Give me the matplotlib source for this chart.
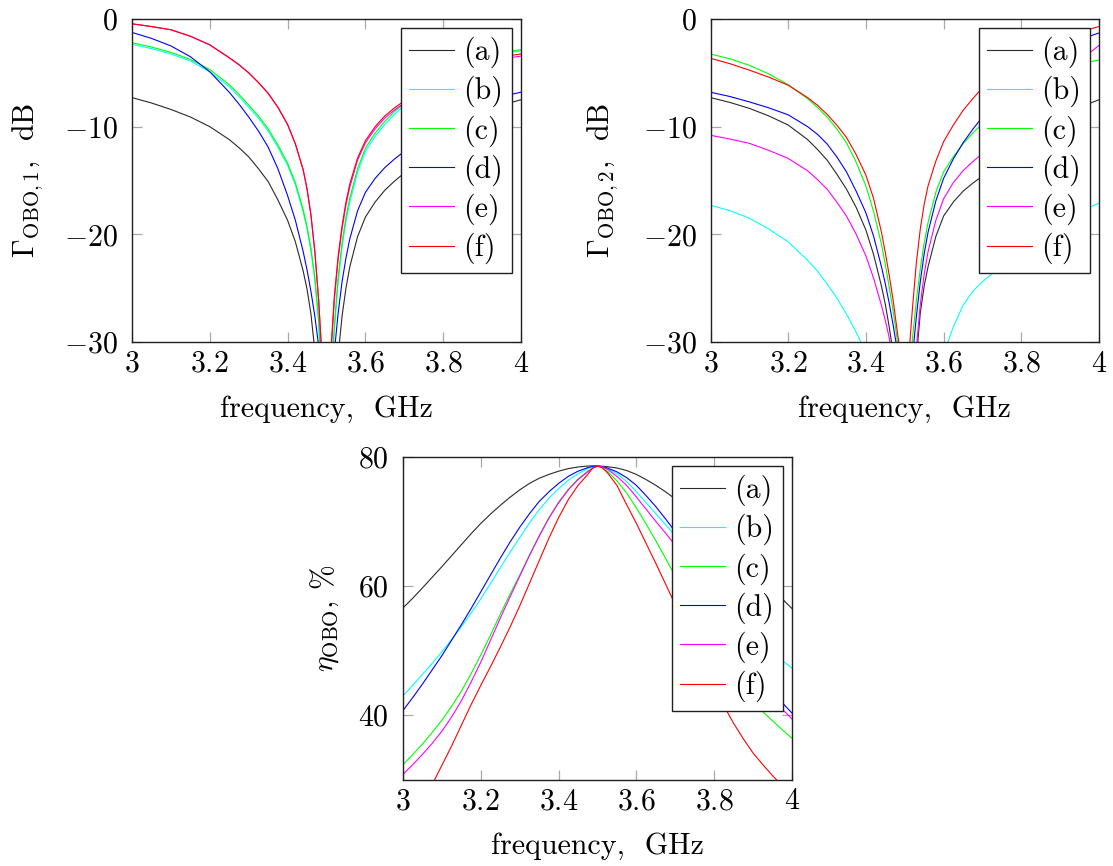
import matplotlib
matplotlib.use('Agg')
import matplotlib.pyplot as plt
from matplotlib.ticker import FixedLocator, FixedFormatter

# ---------------- data ----------------
series_labels = ['(a)', '(b)', '(c)', '(d)', '(e)', '(f)']
series_colors = ['#2a2a2a', '#00ffff', '#00ff00', '#0000ff', '#ff00ff', '#ff0000']

freq_g = [3.00, 3.05, 3.10, 3.15, 3.20, 3.25, 3.275, 3.30, 3.325, 3.35, 3.375, 3.40, 3.42,
          3.44, 3.45, 3.46, 3.47, 3.48, 3.49, 3.50, 3.51, 3.52, 3.53, 3.54, 3.55, 3.56,
          3.58, 3.60, 3.625, 3.65, 3.675, 3.70, 3.75, 3.80, 3.85, 3.90, 3.95, 4.00]

# Gamma_OBO,1 (dB)
g1_a = [-7.3, -7.8, -8.4, -9.1, -10.0, -11.2, -11.95, -12.8, -13.9, -15.1, -16.8, -18.7, -20.7,
        -23.4, -25.1, -27.4, -30.8, -37, -45, -55, -45, -38, -31.2, -27.6, -25.0, -23.0,
        -20.2, -18.4, -17.0, -15.9, -15.05, -14.3, -12.6, -11.1, -9.9, -8.8, -8.0, -7.5]
g1_b = [-2.35, -2.75, -3.25, -3.9, -4.9, -6.3, -7.2, -8.2, -9.2, -10.4, -11.9, -13.6, -15.4,
        -17.9, -19.5, -21.5, -24.2, -28.3, -35.5, -50, -36, -29.0, -24.4, -21.2, -18.8, -17.0,
        -14.2, -12.3, -10.9, -9.8, -8.85, -8.0, -6.6, -5.4, -4.5, -3.8, -3.25, -2.95]
g1_c = [-2.2, -2.6, -3.1, -3.75, -4.7, -6.1, -7.0, -8.0, -9.0, -10.2, -11.7, -13.4, -15.2,
        -17.7, -19.3, -21.3, -24.0, -28.0, -35, -50, -35, -28.5, -24.0, -20.8, -18.4, -16.6,
        -13.9, -12.0, -10.6, -9.5, -8.6, -7.8, -6.4, -5.2, -4.3, -3.6, -3.1, -2.85]
g1_d = [-1.25, -1.8, -2.5, -3.5, -4.9, -6.8, -7.9, -9.1, -10.4, -11.9, -13.9, -16.4, -18.7,
        -21.6, -23.3, -25.3, -27.6, -30.4, -38, -55, -40, -31, -27.3, -24.4, -22.2, -20.4,
        -17.8, -16.1, -14.8, -13.8, -13.0, -12.3, -10.9, -9.7, -8.6, -7.8, -7.2, -6.8]
g1_e = [-0.45, -0.7, -1.0, -1.6, -2.4, -3.6, -4.25, -5.0, -5.9, -6.9, -8.2, -9.8, -11.6,
        -14.0, -15.8, -18.2, -21.6, -26.2, -32.5, -50, -32, -26.2, -22.3, -19.5, -17.3, -15.6,
        -13.1, -11.5, -10.2, -9.2, -8.45, -7.8, -6.5, -5.5, -4.7, -4.1, -3.7, -3.45]
g1_f = [-0.45, -0.7, -1.0, -1.6, -2.4, -3.6, -4.25, -5.0, -5.9, -6.9, -8.2, -9.8, -11.6,
        -14.0, -15.8, -18.2, -21.6, -26.2, -32.5, -50, -31.5, -25.8, -22.0, -19.2, -17.0, -15.3,
        -12.9, -11.3, -10.0, -9.0, -8.25, -7.6, -6.3, -5.3, -4.5, -3.9, -3.5, -3.25]

# Gamma_OBO,2 (dB)
g2_a = [-7.3, -7.75, -8.3, -9.0, -9.85, -11.2, -12.1, -13.1, -14.4, -15.8, -17.5, -19.6, -21.9,
        -24.8, -26.5, -28.6, -31.0, -37, -45, -55, -45, -38, -31.5, -27.3, -24.8, -23.0,
        -20.2, -18.3, -17.0, -16.0, -15.25, -14.6, -12.9, -11.4, -10.1, -9.0, -8.2, -7.5]
g2_b = [-17.3, -17.8, -18.5, -19.5, -20.7, -22.4, -23.4, -24.6, -25.9, -27.4, -29.1, -31.0, -34,
        -37, -39, -41, -44, -47, -52, -60, -52, -47, -44, -41, -39, -37,
        -33.7, -31.1, -28.6, -26.6, -25.3, -24.4, -22.9, -21.2, -19.9, -18.8, -17.9, -17.1]
g2_c = [-3.25, -3.7, -4.3, -5.1, -6.1, -7.4, -8.2, -9.1, -10.2, -11.5, -13.3, -15.5, -17.9,
        -20.9, -22.8, -24.9, -27.1, -29.6, -35, -50, -33.5, -29.6, -26.1, -23.2, -20.8, -18.9,
        -16.1, -14.2, -12.8, -11.6, -10.6, -9.7, -8.2, -6.9, -5.8, -4.9, -4.2, -3.8]
g2_d = [-6.8, -7.2, -7.7, -8.25, -8.9, -10.0, -10.7, -11.6, -12.8, -14.2, -16.0, -18.0, -20.2,
        -23.0, -24.6, -26.4, -28.4, -30.6, -38, -50, -38, -31.3, -27.6, -24.4, -21.8, -19.8,
        -16.9, -14.8, -13.0, -11.5, -10.25, -9.1, -7.0, -5.3, -3.9, -2.8, -1.9, -1.3]
g2_e = [-10.8, -11.15, -11.55, -12.2, -12.95, -14.1, -14.9, -15.8, -17.0, -18.3, -20.0, -22.0, -24.1,
        -26.6, -28.0, -29.6, -32, -40, -48, -55, -45, -38, -30.5, -26.5, -23.7, -21.6,
        -18.7, -16.7, -15.2, -14.1, -13.25, -12.5, -10.5, -8.7, -7.0, -5.4, -3.9, -2.45]
g2_f = [-3.65, -4.15, -4.75, -5.4, -6.15, -7.3, -8.0, -8.85, -9.85, -11.0, -12.6, -14.5, -16.7,
        -19.8, -21.7, -23.8, -26.1, -28.8, -31.5, -45, -31.5, -26.8, -22.6, -19.5, -17.2, -15.5,
        -13.2, -11.4, -9.85, -8.5, -7.4, -6.4, -4.8, -3.6, -2.6, -1.8, -1.2, -0.7]

freq_e = [3.000, 3.025, 3.050, 3.075, 3.100, 3.125, 3.150, 3.175, 3.200, 3.225, 3.250,
          3.275, 3.300, 3.325, 3.350, 3.375, 3.400, 3.425, 3.450, 3.475, 3.4875, 3.500,
          3.5125, 3.525, 3.550, 3.575, 3.600, 3.625, 3.650, 3.675, 3.700, 3.725, 3.750,
          3.775, 3.800, 3.825, 3.850, 3.875, 3.900, 3.925, 3.950, 3.975, 4.000]

# eta_OBO (%)
eta_a = [56.6, 58.1, 59.7, 61.35, 63.0, 64.7, 66.4, 68.1, 69.7, 71.15, 72.5,
         73.75, 74.9, 75.9, 76.7, 77.3, 77.8, 78.2, 78.45, 78.6, 78.62, 78.6,
         78.57, 78.5, 78.3, 77.9, 77.3, 76.5, 75.6, 74.6, 73.5, 72.3, 71.0,
         69.7, 68.3, 66.85, 65.4, 63.95, 62.5, 61.0, 59.5, 58.0, 56.5]
eta_b = [43.0, 44.6, 46.3, 48.0, 49.8, 51.7, 53.7, 55.8, 58.0, 60.4, 62.8,
         65.2, 67.5, 69.75, 71.8, 73.6, 75.1, 76.4, 77.4, 78.2, 78.5, 78.6,
         78.5, 78.2, 77.4, 76.2, 74.6, 72.9, 71.2, 69.5, 67.8, 66.0, 64.2,
         62.3, 60.4, 58.4, 56.5, 54.7, 52.9, 51.2, 49.7, 48.4, 47.3]
eta_c = [32.3, 33.85, 35.5, 37.3, 39.2, 41.35, 43.7, 46.4, 49.3, 52.4, 55.6,
         58.7, 61.7, 64.8, 67.8, 70.6, 73.0, 75.0, 76.6, 77.8, 78.3, 78.6,
         78.35, 77.8, 76.3, 74.4, 72.1, 69.6, 67.0, 64.3, 61.5, 58.5, 55.6,
         52.7, 50.0, 47.6, 45.5, 43.7, 42.0, 40.5, 39.1, 37.7, 36.4]
eta_d = [40.7, 42.7, 44.8, 47.0, 49.2, 51.6, 54.0, 56.5, 59.1, 61.7, 64.3,
         66.8, 69.1, 71.2, 73.1, 74.6, 75.9, 77.0, 77.8, 78.35, 78.55, 78.6,
         78.5, 78.3, 77.7, 76.8, 75.6, 74.0, 72.3, 70.4, 68.4, 66.2, 63.8,
         61.4, 58.9, 56.3, 53.7, 51.1, 48.6, 46.1, 43.8, 41.9, 40.3]
eta_e = [30.8, 32.3, 33.9, 35.6, 37.5, 39.7, 42.2, 45.1, 48.2, 51.6, 55.0,
         58.3, 61.5, 64.7, 67.7, 70.5, 72.9, 74.9, 76.5, 77.7, 78.25, 78.6,
         78.5, 78.1, 77.0, 75.6, 73.8, 71.9, 70.0, 68.2, 66.3, 64.2, 61.9,
         59.6, 57.2, 54.8, 52.4, 50.0, 47.6, 45.2, 42.8, 40.9, 39.4]
eta_f = [20.8, 23.6, 26.4, 29.2, 32.2, 35.2, 38.4, 41.6, 44.6, 47.5, 50.5,
         53.6, 56.9, 60.4, 63.9, 67.4, 70.6, 73.4, 75.6, 77.3, 78.27, 78.6,
         78.3, 77.6, 75.6, 72.6, 69.7, 66.6, 63.5, 60.3, 57.1, 53.9, 50.7,
         47.5, 44.4, 41.4, 38.7, 36.3, 34.1, 32.3, 30.6, 29.0, 27.5]

x_ticks = [3.0, 3.2, 3.4, 3.6, 3.8, 4.0]
x_ticklabels = ['3', '3.2', '3.4', '3.6', '3.8', '4']
g_ticks = [-30, -20, -10, 0]
g_ticklabels = ['\u221230', '\u221220', '\u221210', '0']
e_ticks = [40, 60, 80]
e_ticklabels = ['40', '60', '80']

xlabel_text = 'frequency,  GHz'
ylabel_g1 = r'$\Gamma_{\mathrm{OBO},1}$,  dB'
ylabel_g2 = r'$\Gamma_{\mathrm{OBO},2}$,  dB'
ylabel_e = r'$\eta_{\mathrm{OBO}}$, %'

# ---------------- style ----------------
plt.rcParams['font.family'] = ['cmr10', 'DejaVu Serif']
plt.rcParams['mathtext.fontset'] = 'cm'
plt.rcParams['axes.unicode_minus'] = False
FS = 21.5

fig = plt.figure(figsize=(11.13, 8.66), dpi=100)
W, H = 1113.0, 866.0


def make_axes(left, top, right, bottom):
    return fig.add_axes([left / W, 1 - bottom / H, (right - left) / W, (bottom - top) / H])


def tick_label(s):
    return '$' + s.replace('\u2212', '-') + '$'


def style(ax, yticks, yticklabels, ylim, ylabel, ylab_x, xlab_y):
    ax.set_xlim(3, 4)
    ax.set_ylim(*ylim)
    ax.xaxis.set_major_locator(FixedLocator(x_ticks))
    ax.xaxis.set_major_formatter(FixedFormatter([tick_label(s) for s in x_ticklabels]))
    ax.yaxis.set_major_locator(FixedLocator(yticks))
    ax.yaxis.set_major_formatter(FixedFormatter([tick_label(s) for s in yticklabels]))
    ax.tick_params(direction='in', length=7, width=0.9, color='#a8a8a8',
                   top=True, right=True, labelsize=FS)
    ax.tick_params(axis='x', pad=6)
    ax.tick_params(axis='y', pad=10)
    for sp in ax.spines.values():
        sp.set_linewidth(1.0)
        sp.set_color('#202020')
    ax.set_xlabel(xlabel_text, fontsize=FS)
    ax.set_ylabel(ylabel, fontsize=FS)
    ax.xaxis.set_label_coords(0.5, xlab_y)
    ax.yaxis.set_label_coords(ylab_x, 0.5)
    leg = ax.legend(loc='upper right', fontsize=FS, frameon=True, fancybox=False,
                    framealpha=1.0, edgecolor='#202020', borderaxespad=0.3,
                    handlelength=1.5, handletextpad=0.3, borderpad=0.3,
                    labelspacing=0.26)
    leg.get_frame().set_linewidth(1.0)


LW = 0.8

ax1 = make_axes(132, 19, 521, 342)
for ys, c, lab in zip([g1_a, g1_b, g1_c, g1_d, g1_e, g1_f], series_colors, series_labels):
    ax1.plot(freq_g, ys, color=c, lw=LW, label=lab)
style(ax1, g_ticks, g_ticklabels, (-30, 0), ylabel_g1, -0.224, -0.165)

ax2 = make_axes(710.5, 19, 1099, 342)
for ys, c, lab in zip([g2_a, g2_b, g2_c, g2_d, g2_e, g2_f], series_colors, series_labels):
    ax2.plot(freq_g, ys, color=c, lw=LW, label=lab)
style(ax2, g_ticks, g_ticklabels, (-30, 0), ylabel_g2, -0.232, -0.165)

ax3 = make_axes(403, 457, 792, 779.5)
for ys, c, lab in zip([eta_a, eta_b, eta_c, eta_d, eta_e, eta_f], series_colors, series_labels):
    ax3.plot(freq_e, ys, color=c, lw=LW, label=lab)
style(ax3, e_ticks, e_ticklabels, (30, 80), ylabel_e, -0.16, -0.165)

fig.savefig('out.png', dpi=100)
